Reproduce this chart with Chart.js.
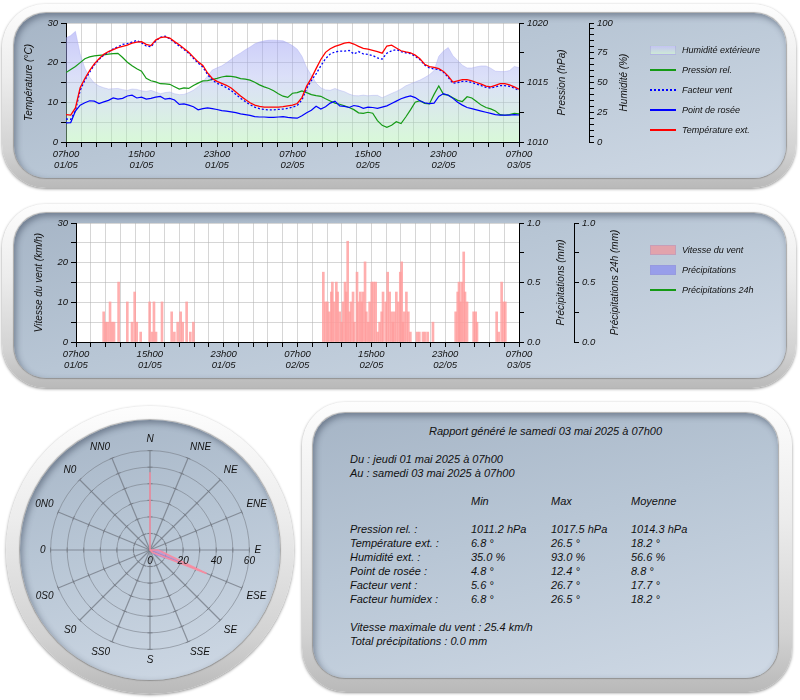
<!DOCTYPE html>
<html><head><meta charset="utf-8">
<script src="https://cdn.jsdelivr.net/npm/chart.js@4.4.1/dist/chart.umd.min.js"></script>
<style>
html,body{margin:0;padding:0;background:#fff;width:800px;height:700px;overflow:hidden;font-family:"Liberation Sans",Arial,sans-serif;}
.bezel{position:absolute;border-radius:44px;background:linear-gradient(180deg,#fdfdfd 0%,#ececec 40%,#d2d2d2 80%,#b9b9b9 100%);box-shadow:0 1px 3px rgba(0,0,0,.45);}
.face{position:absolute;border-radius:32px;background:linear-gradient(165deg,#a6b5c6 0%,#b8c6d5 45%,#cfd9e5 100%);box-shadow:inset 2px 3px 6px rgba(40,50,70,.45),0 0 1px 1px rgba(110,110,110,.55);}
canvas{position:absolute;}
.lg{position:absolute;font:italic 9px "Liberation Sans",Arial,sans-serif;color:#111;white-space:nowrap;}
.sw{position:absolute;}
.rt{position:absolute;font:italic 11px "Liberation Sans",Arial,sans-serif;color:#111;line-height:13px;white-space:nowrap;}
</style>
</head><body>
<div class="bezel" style="left:2px;top:4px;width:794px;height:184px;"></div>
<div class="face" style="left:14px;top:13px;width:772px;height:165px;"></div>
<div class="bezel" style="left:2px;top:204px;width:794px;height:184px;"></div>
<div class="face" style="left:14px;top:213px;width:772px;height:165px;"></div>
<div class="bezel" style="left:6px;top:406px;width:288px;height:288px;border-radius:50%;"></div>
<div class="face" style="left:20px;top:420px;width:260px;height:260px;border-radius:50%;"></div>
<div class="bezel" style="left:302px;top:402px;width:490px;height:290px;"></div>
<div class="face" style="left:313px;top:413px;width:465px;height:265px;"></div>

<canvas id="c1" width="800" height="190" style="left:0;top:0;"></canvas>
<canvas id="c2" width="800" height="190" style="left:0;top:200px;"></canvas>
<canvas id="c3" width="300" height="300" style="left:2px;top:400px;"></canvas>
<div id="legends"></div>
<div id="report"></div>

<script>
// ---------- DATA ----------
const hours = [0,0.5,1,1.5,2,2.5,3,3.5,4,4.5,5,5.5,6,6.5,7,7.5,8,8.5,9,9.5,
 10,10.5,11,11.5,12,12.5,13,13.5,14,14.5,15,15.5,16,16.5,17,17.5,18,18.5,19,19.5,
 20,20.5,21,21.5,22,22.5,23,23.5,24,24.5,25,25.5,26,26.5,27,27.5,28,28.5,29,29.5,
 30,30.5,31,31.5,32,32.5,33,33.5,34,34.5,35,35.5,36,36.5,37,37.5,38,38.5,39,39.5,
 40,40.5,41,41.5,42,42.5,43,43.5,44,44.5,45,45.5,46,46.5,47,47.5,48];

const tempExt = [6.9,6.8,8.6,13.7,16.0,18.0,19.7,21.0,22.1,22.8,
 23.3,23.8,24.1,24.4,24.9,25.2,25.3,24.6,24.3,25.7,
 26.3,26.5,26.2,25.3,24.5,23.6,22.6,21.4,20.2,19.3,
 17.4,16.0,15.3,14.8,14.3,13.6,12.6,11.6,10.7,9.9,
 9.3,9.0,8.8,8.8,8.8,8.8,8.9,9.1,9.3,9.7,
 11.2,14.1,16.1,18.5,20.8,22.6,23.5,24.1,24.5,24.9,
 25.1,24.7,24.1,23.6,23.4,23.1,22.8,22.4,24.2,24.4,
 23.7,23.0,22.7,22.5,21.9,21.0,19.6,19.0,18.8,18.5,
 17.8,16.6,15.1,15.4,15.7,15.7,15.4,15.0,14.6,14.1,
 13.9,14.3,14.7,14.7,14.4,13.9,13.3];

const windChill = [5.8,5.7,7.9,13.0,15.6,17.6,19.4,20.8,21.9,22.6,
 23.5,24.0,24.6,24.8,25.2,25.6,25.0,24.2,24.0,25.4,
 26.4,26.7,26.0,25.1,24.2,23.3,22.4,21.1,19.9,18.9,
 17.0,15.6,14.8,14.3,13.7,13.0,12.0,11.0,10.2,9.4,
 8.8,8.4,8.2,8.1,8.1,8.2,8.3,8.5,8.8,9.2,
 10.6,13.5,15.5,17.2,19.2,21.0,22.2,22.7,22.9,22.9,
 23.1,22.2,22.8,22.2,22.1,21.8,21.2,20.9,22.4,23.0,
 23.3,22.8,22.5,22.3,21.6,20.8,19.4,18.7,18.4,18.3,
 17.6,16.3,14.8,15.0,15.3,15.3,15.0,14.6,14.2,13.8,
 13.6,13.9,14.2,14.2,14.0,13.6,13.0];

const dewPoint = [4.8,4.9,7.8,9.3,9.9,10.4,10.3,9.7,10.1,10.5,
 11.1,10.8,11.0,11.6,11.8,11.1,11.3,10.8,11.0,11.3,
 11.5,10.8,11.0,10.6,9.5,9.6,9.3,8.9,8.1,8.4,
 8.6,8.4,8.2,7.9,7.8,7.6,7.4,7.1,6.9,6.7,
 6.4,6.3,6.3,6.2,6.2,6.3,6.4,6.2,6.1,6.0,
 6.6,7.4,8.0,9.0,8.3,8.9,9.8,10.3,9.1,9.0,
 8.7,9.2,9.0,8.5,8.8,8.7,8.5,8.8,9.1,9.7,
 10.3,10.9,11.3,11.6,11.2,10.4,9.9,9.7,9.8,11.5,
 12.2,11.8,11.0,10.0,9.3,8.7,8.4,8.1,7.8,7.5,
 7.2,6.9,6.8,6.8,6.8,6.9,6.8];

const pressure = [1015.83,1016.1,1016.35,1016.67,1017.0,1017.15,1017.24,1017.28,1017.32,1017.38,
 1017.42,1017.45,1017.1,1016.7,1016.4,1016.15,1015.95,1015.35,1015.15,1015.05,
 1014.9,1014.88,1014.85,1014.65,1014.45,1014.55,1014.5,1014.75,1014.95,1015.13,
 1015.16,1015.25,1015.35,1015.46,1015.53,1015.52,1015.45,1015.33,1015.28,1015.2,
 1015.02,1014.8,1014.63,1014.5,1014.3,1014.05,1013.85,1013.75,1014.1,1014.15,
 1014.3,1014.15,1013.98,1013.9,1013.84,1013.63,1013.45,1013.27,1013.17,1013.05,
 1012.9,1012.72,1012.45,1012.4,1012.5,1012.42,1011.8,1011.4,1011.24,1011.4,
 1011.7,1011.55,1012.1,1012.7,1013.35,1013.47,1013.25,1013.2,1014.0,1014.7,
 1014.0,1013.94,1013.72,1013.5,1013.4,1013.8,1013.7,1013.4,1013.1,1012.9,
 1012.78,1012.6,1012.3,1012.25,1012.31,1012.4,1012.37];

const humidity = [87.5,89.5,93.0,74.0,62.0,54.5,49.5,47.0,45.6,44.5,
 44.8,45.0,44.0,43.4,44.5,44.2,43.0,42.5,43.4,42.0,
 40.6,41.5,42.0,40.5,39.8,40.0,41.5,43.5,46.5,50.5,
 55.5,60.5,62.3,64.0,66.5,69.5,72.5,74.8,77.5,79.8,
 82.5,84.0,85.0,85.5,85.6,85.3,85.0,83.2,81.0,78.0,
 72.0,62.5,56.0,49.5,45.5,43.8,43.4,45.0,43.4,42.3,
 40.3,39.0,38.8,39.4,38.8,39.2,39.2,37.2,39.0,40.8,
 42.5,44.5,47.2,48.8,50.5,52.0,54.1,56.5,60.0,72.0,
 76.5,79.4,72.5,68.5,64.5,62.2,62.2,63.2,63.9,63.9,
 62.0,59.5,59.2,59.2,60.0,63.5,62.5];

const windHours = [2.89,3.11,3.32,3.58,3.79,4.01,4.51,5.45,5.96,6.25,6.47,6.90,7.87,8.13,8.34,8.56,9.21,10.26,10.55,10.91,11.23,11.45,11.88,12.28,12.61,
 26.69,26.91,27.13,27.34,27.56,27.67,27.88,28.10,28.24,28.46,28.68,28.82,29.04,29.18,29.33,29.54,29.69,29.91,30.05,30.34,
 30.48,30.70,30.84,30.99,31.21,31.35,31.57,31.71,31.93,32.14,32.36,32.58,32.79,33.01,33.16,33.45,33.66,33.88,34.10,34.24,
 34.38,34.60,34.82,35.03,35.18,35.32,35.47,35.69,35.90,36.12,36.84,37.09,37.49,37.71,38.00,38.57,
 41.03,41.25,41.39,41.54,41.68,41.90,42.04,42.26,42.98,43.20,43.34,
 45.47,45.69,46.01,46.23,46.41];
const windSpeed = [7.6,5.0,5.0,10.1,5.0,5.0,15.1,10.1,5.0,12.6,5.0,2.5,10.1,2.5,10.1,2.5,10.1,7.6,2.5,5.0,7.6,5.0,10.1,2.5,5.0,
 17.6,10.1,10.1,7.6,12.6,15.1,10.1,15.1,12.6,7.6,5.0,10.1,15.1,12.6,25.4,7.6,10.1,12.6,5.0,17.6,
 10.1,12.6,10.1,12.6,20.2,7.6,5.0,10.1,15.1,15.1,15.1,2.5,5.0,7.6,12.6,10.1,17.6,12.6,7.6,5.0,
 7.6,12.6,10.1,17.6,20.2,5.0,7.6,12.6,7.6,2.5,2.5,2.5,2.5,2.5,2.5,5.0,
 7.6,12.6,15.1,10.1,15.1,22.7,12.6,10.1,7.6,7.6,5.0,
 7.6,2.5,15.1,10.1,10.1];
const precipHours = [];
const precipValues = [];
const precip24Values = [];

const xTickLabels = [['07h00','01/05'],['15h00','01/05'],['23h00','01/05'],['07h00','02/05'],['15h00','02/05'],['23h00','02/05'],['07h00','03/05']];

const roseDirs = ['N','NNE','NE','ENE','E','ESE','SE','SSE','S','SS0','S0','0S0','0','0N0','N0','NN0'];
const roseGust = [47,0,0,0,5,37,2,0,0,0,0,0,0,0,0,0];
const roseMean = [0,0,0,0,6,20,4,0,0,0,0,0,0,0,0,0];

const reportTitle = 'Rapport généré le samedi 03 mai 2025 à 07h00';
const reportFrom = 'Du : jeudi 01 mai 2025 à 07h00';
const reportTo = 'Au : samedi 03 mai 2025 à 07h00';
const statHeads = ['Min','Max','Moyenne'];
const statLabels = ['Pression rel. :','Température ext. :','Humidité ext. :','Point de rosée :','Facteur vent :','Facteur humidex :'];
const statMin = ['1011.2 hPa','6.8 °','35.0 %','4.8 °','5.6 °','6.8 °'];
const statMax = ['1017.5 hPa','26.5 °','93.0 %','12.4 °','26.7 °','26.5 °'];
const statAvg = ['1014.3 hPa','18.2 °','56.6 %','8.8 °','17.7 °','18.2 °'];
const reportFoot = ['Vitesse maximale du vent : 25.4 km/h','Total précipitations : 0.0 mm'];

// ---------- STYLE ----------
Chart.defaults.font.family = '"Liberation Sans", Arial, sans-serif';
Chart.defaults.font.style = 'italic';
Chart.defaults.font.size = 9.5;
Chart.defaults.color = '#111';
Chart.defaults.animation = false;

const GRID = 'rgba(180,180,180,0.55)';
const pts = (vals) => vals.map((v, i) => ({x: hours[i], y: v}));
const plotBg = {id:'plotBg', beforeDraw(chart){const a=chart.chartArea;const c=chart.ctx;c.save();c.fillStyle='#fff';c.fillRect(a.left,a.top,a.right-a.left,a.bottom-a.top);c.restore();}};
// right-hand axis titles, read bottom-to-top like the reference
const rightTitles = {id:'rightTitles', afterDraw(chart, args, opts){
  const c = chart.ctx;
  (opts.items||[]).forEach(it=>{
    const s = chart.scales[it.id]; if(!s) return;
    c.save(); c.translate(s.right - it.offset, (s.top+s.bottom)/2); c.rotate(-Math.PI/2);
    c.font='italic 10px "Liberation Sans", Arial, sans-serif'; c.fillStyle='#111'; c.textAlign='center'; c.textBaseline='middle';
    c.fillText(it.text,0,0); c.restore();
  });
}};

function xAxis(){
  return {type:'linear', min:0, max:48, offset:false,
    ticks:{stepSize:1.6, autoSkip:false, maxRotation:0, minRotation:0, padding:2, font:{size:9.5, lineHeight:1.18},
      callback:(v,i)=> (i%5===0 ? xTickLabels[i/5] : '')},
    grid:{color:GRID, tickColor:'#000', tickLength:5, offset:false},
    border:{color:'#000'},
    afterFit:(s)=>{s.height=48;}};
}
function yAxis(pos, min, max, step, labelEvery, title, width, tpad, onArea, fmt){
  return {type:'linear', position:pos, min:min, max:max,
    ticks:{stepSize:step, padding:3, autoSkip:false,
      callback:(v)=>{const r=Math.round((v-min)/labelEvery*1000)/1000; return Number.isInteger(r) ? (fmt?fmt(v):String(v)) : '';}},
    grid:{color: onArea?GRID:'#000', drawOnChartArea:onArea, tickColor:'#000', tickLength:5},
    border:{color:'#000'},
    title:{display: pos==='left', text:title, font:{size:10}, padding:{top:tpad,bottom:0}},
    afterFit:(s)=>{s.width=width;}};
}

function humGradient(ctx){
  const ch = ctx.chart; const a = ch.chartArea; if(!a) return 'rgba(160,160,240,0.4)';
  const g = ch.ctx.createLinearGradient(0,a.top,0,a.bottom);
  g.addColorStop(0,'rgba(150,150,245,0.55)');
  g.addColorStop(0.45,'rgba(170,180,240,0.42)');
  g.addColorStop(1,'rgba(170,240,170,0.45)');
  return g;
}

// ---------- CHART 1 ----------
new Chart(document.getElementById('c1'), {
  type:'line',
  data:{datasets:[
    {label:'Température ext.', data:pts(tempExt), yAxisID:'yTemp', borderColor:'#ff0000', borderWidth:1.3, pointRadius:0, order:0},
    {label:'Point de rosée', data:pts(dewPoint), yAxisID:'yTemp', borderColor:'#0000ff', borderWidth:1.2, pointRadius:0, order:1},
    {label:'Facteur vent', data:pts(windChill), yAxisID:'yTemp', borderColor:'#0000ff', borderWidth:1.3, borderDash:[2,2], pointRadius:0, order:2},
    {label:'Pression rel.', data:pts(pressure), yAxisID:'yPres', borderColor:'#159a15', borderWidth:1.2, pointRadius:0, order:3},
    {label:'Humidité extérieure', data:pts(humidity), yAxisID:'yHum', borderColor:'rgba(160,160,240,0.35)', borderWidth:1, backgroundColor:humGradient, fill:'origin', pointRadius:0, order:10}
  ]},
  options:{responsive:false, animation:false, devicePixelRatio:1,
    layout:{padding:{left:0,right:169,top:23,bottom:0}},
    plugins:{legend:{display:false}, tooltip:{enabled:false},
      rightTitles:{items:[{id:'yPres', text:'Pression (hPa)', offset:27},{id:'yHum', text:'Humidité (%)', offset:7}]}},
    scales:{
      x:xAxis(),
      yTemp:yAxis('left',0,30,5,10,'Température (°C)',66,23,true),
      yPres:yAxis('right',1010,1020,2.5,5,'Pression (hPa)',70,21,false),
      yHum:yAxis('right',0,100,5,25,'Humidité (%)',42,1,false)
    }},
  plugins:[plotBg, rightTitles]
});

// ---------- CHART 2 ----------
new Chart(document.getElementById('c2'), {
  type:'line',
  data:{datasets:[
    {type:'bar', label:'Vitesse du vent', data:windHours.map((h,i)=>({x:h,y:windSpeed[i]})), yAxisID:'yWind', backgroundColor:'rgba(255,155,155,0.8)', borderWidth:0, barThickness:2, order:2},
    {type:'bar', label:'Précipitations', data:precipHours.map((h,i)=>({x:h,y:precipValues[i]})), yAxisID:'yPrec', backgroundColor:'rgba(140,140,235,0.8)', barThickness:2, order:1},
    {label:'Précipitations 24h', data:precipHours.map((h,i)=>({x:h,y:precip24Values[i]})), yAxisID:'yPrec24', borderColor:'#159a15', borderWidth:1.2, pointRadius:0, order:0}
  ]},
  options:{responsive:false, animation:false, devicePixelRatio:1,
    layout:{padding:{left:0,right:178,top:23,bottom:0}},
    plugins:{legend:{display:false}, tooltip:{enabled:false},
      rightTitles:{items:[{id:'yPrec', text:'Précipitations (mm)', offset:13},{id:'yPrec24', text:'Précipitations 24h (mm)', offset:7}]}},
    scales:{
      x:xAxis(),
      yWind:yAxis('left',0,30,5,10,'Vitesse du vent (km/h)',76,33,true),
      yPrec:yAxis('right',0,1,0.25,0.5,'Précipitations (mm)',55,7,false,(v)=>v.toFixed(1)),
      yPrec24:yAxis('right',0,1,0.25,0.5,'Précipitations 24h (mm)',48,1,false,(v)=>v.toFixed(1))
    }},
  plugins:[plotBg, rightTitles]
});

// ---------- WIND ROSE ----------
const roseTicks = {id:'roseTicks',
  beforeDatasetsDraw(chart){
    // small cross marks where each spoke meets each ring
    const s = chart.scales.r; const c = chart.ctx; const n = chart.data.labels.length;
    c.save(); c.strokeStyle='rgba(110,115,125,0.7)'; c.lineWidth=1;
    for (let i=0;i<n;i++){
      const ang = s.getIndexAngle(i) - Math.PI/2;
      const px = -Math.sin(ang), py = Math.cos(ang);
      s.ticks.forEach(t=>{ if (t.value<=0) return;
        const p = s.getPointPositionForValue(i, t.value);
        c.beginPath(); c.moveTo(p.x - px*2.5, p.y - py*2.5); c.lineTo(p.x + px*2.5, p.y + py*2.5); c.stroke(); });
    }
    c.restore();
  },
  afterDatasetsDraw(chart){
    const s = chart.scales.r; const c = chart.ctx;
    c.save(); c.font='italic 10px "Liberation Sans", Arial, sans-serif'; c.fillStyle='#111'; c.textAlign='center'; c.textBaseline='middle';
    s.ticks.forEach(t=>{ if (t.value % 20 === 0) { const d = s.getDistanceFromCenterForValue(t.value); c.fillText(String(t.value), s.xCenter + d, s.yCenter + 11); } });
    c.restore();
  }};
new Chart(document.getElementById('c3'), {
  type:'radar',
  data:{labels:roseDirs, datasets:[
    {label:'Rafales', data:roseGust, borderColor:'rgba(250,140,160,0.95)', backgroundColor:'rgba(250,150,170,0.25)', borderWidth:1.5, pointRadius:0, fill:true, order:0},
    {label:'Moyenne', data:roseMean, borderColor:'rgba(150,130,230,0.6)', backgroundColor:'rgba(150,130,235,0.55)', borderWidth:1, pointRadius:0, fill:true, order:1}
  ]},
  options:{responsive:false, animation:false, devicePixelRatio:1,
    layout:{padding:33},
    plugins:{legend:{display:false}, tooltip:{enabled:false}},
    elements:{line:{tension:0}},
    scales:{r:{min:0, max:60, beginAtZero:true,
      ticks:{stepSize:10, display:false},
      grid:{circular:true, color:'rgba(115,120,130,0.55)', lineWidth:1},
      angleLines:{color:'rgba(110,115,125,0.7)', lineWidth:1.2},
      pointLabels:{font:{size:10, style:'italic'}, color:'#111', padding:5}
    }}},
  plugins:[roseTicks]
});

// ---------- LEGENDS ----------
const L = document.getElementById('legends');
function legendItem(y, kind, color, text){
  const sw = document.createElement('div'); sw.className='sw';
  if (kind==='box') { sw.style.cssText = `left:650px;top:${y-5}px;width:26px;height:10px;background:${color};border:1px solid rgba(150,150,200,0.35);box-sizing:border-box;`; }
  else if (kind==='dash') { sw.style.cssText = `left:650px;top:${y-1}px;width:26px;height:0;border-top:2px dotted ${color};`; }
  else { sw.style.cssText = `left:650px;top:${y-1}px;width:26px;height:1.6px;background:${color};`; }
  L.appendChild(sw);
  const t = document.createElement('div'); t.className='lg'; t.textContent=text; t.style.left='682px'; t.style.top=(y-6)+'px'; t.style.lineHeight='12px';
  L.appendChild(t);
}
legendItem(50,'box','linear-gradient(180deg,#c4c4f2,#cde9d6)','Humidité extérieure');
legendItem(70,'line','#159a15','Pression rel.');
legendItem(90,'dash','#0000ff','Facteur vent');
legendItem(110,'line','#0000ff','Point de rosée');
legendItem(130,'line','#ff0000','Température ext.');
legendItem(250,'box','rgba(228,160,170,0.95)','Vitesse du vent');
legendItem(270,'box','rgba(150,155,235,0.95)','Précipitations');
legendItem(290,'line','#159a15','Précipitations 24h');

// ---------- REPORT ----------
const R = document.getElementById('report');
function rt(text, left, cy, center){
  const d = document.createElement('div'); d.className='rt'; d.textContent=text;
  d.style.top=(cy-6.5)+'px';
  if (center){ d.style.left='313px'; d.style.width='465px'; d.style.textAlign='center'; } else d.style.left=left+'px';
  R.appendChild(d);
}
rt(reportTitle,0,431,true);
rt(reportFrom,350,459);
rt(reportTo,350,473);
statHeads.forEach((h,i)=>rt(h,[471,551,631][i],501));
statLabels.forEach((s,i)=>{const y=529+i*14; rt(s,350,y); rt(statMin[i],471,y); rt(statMax[i],551,y); rt(statAvg[i],631,y);});
reportFoot.forEach((s,i)=>rt(s,350,627+i*14));
</script>
</body></html>
